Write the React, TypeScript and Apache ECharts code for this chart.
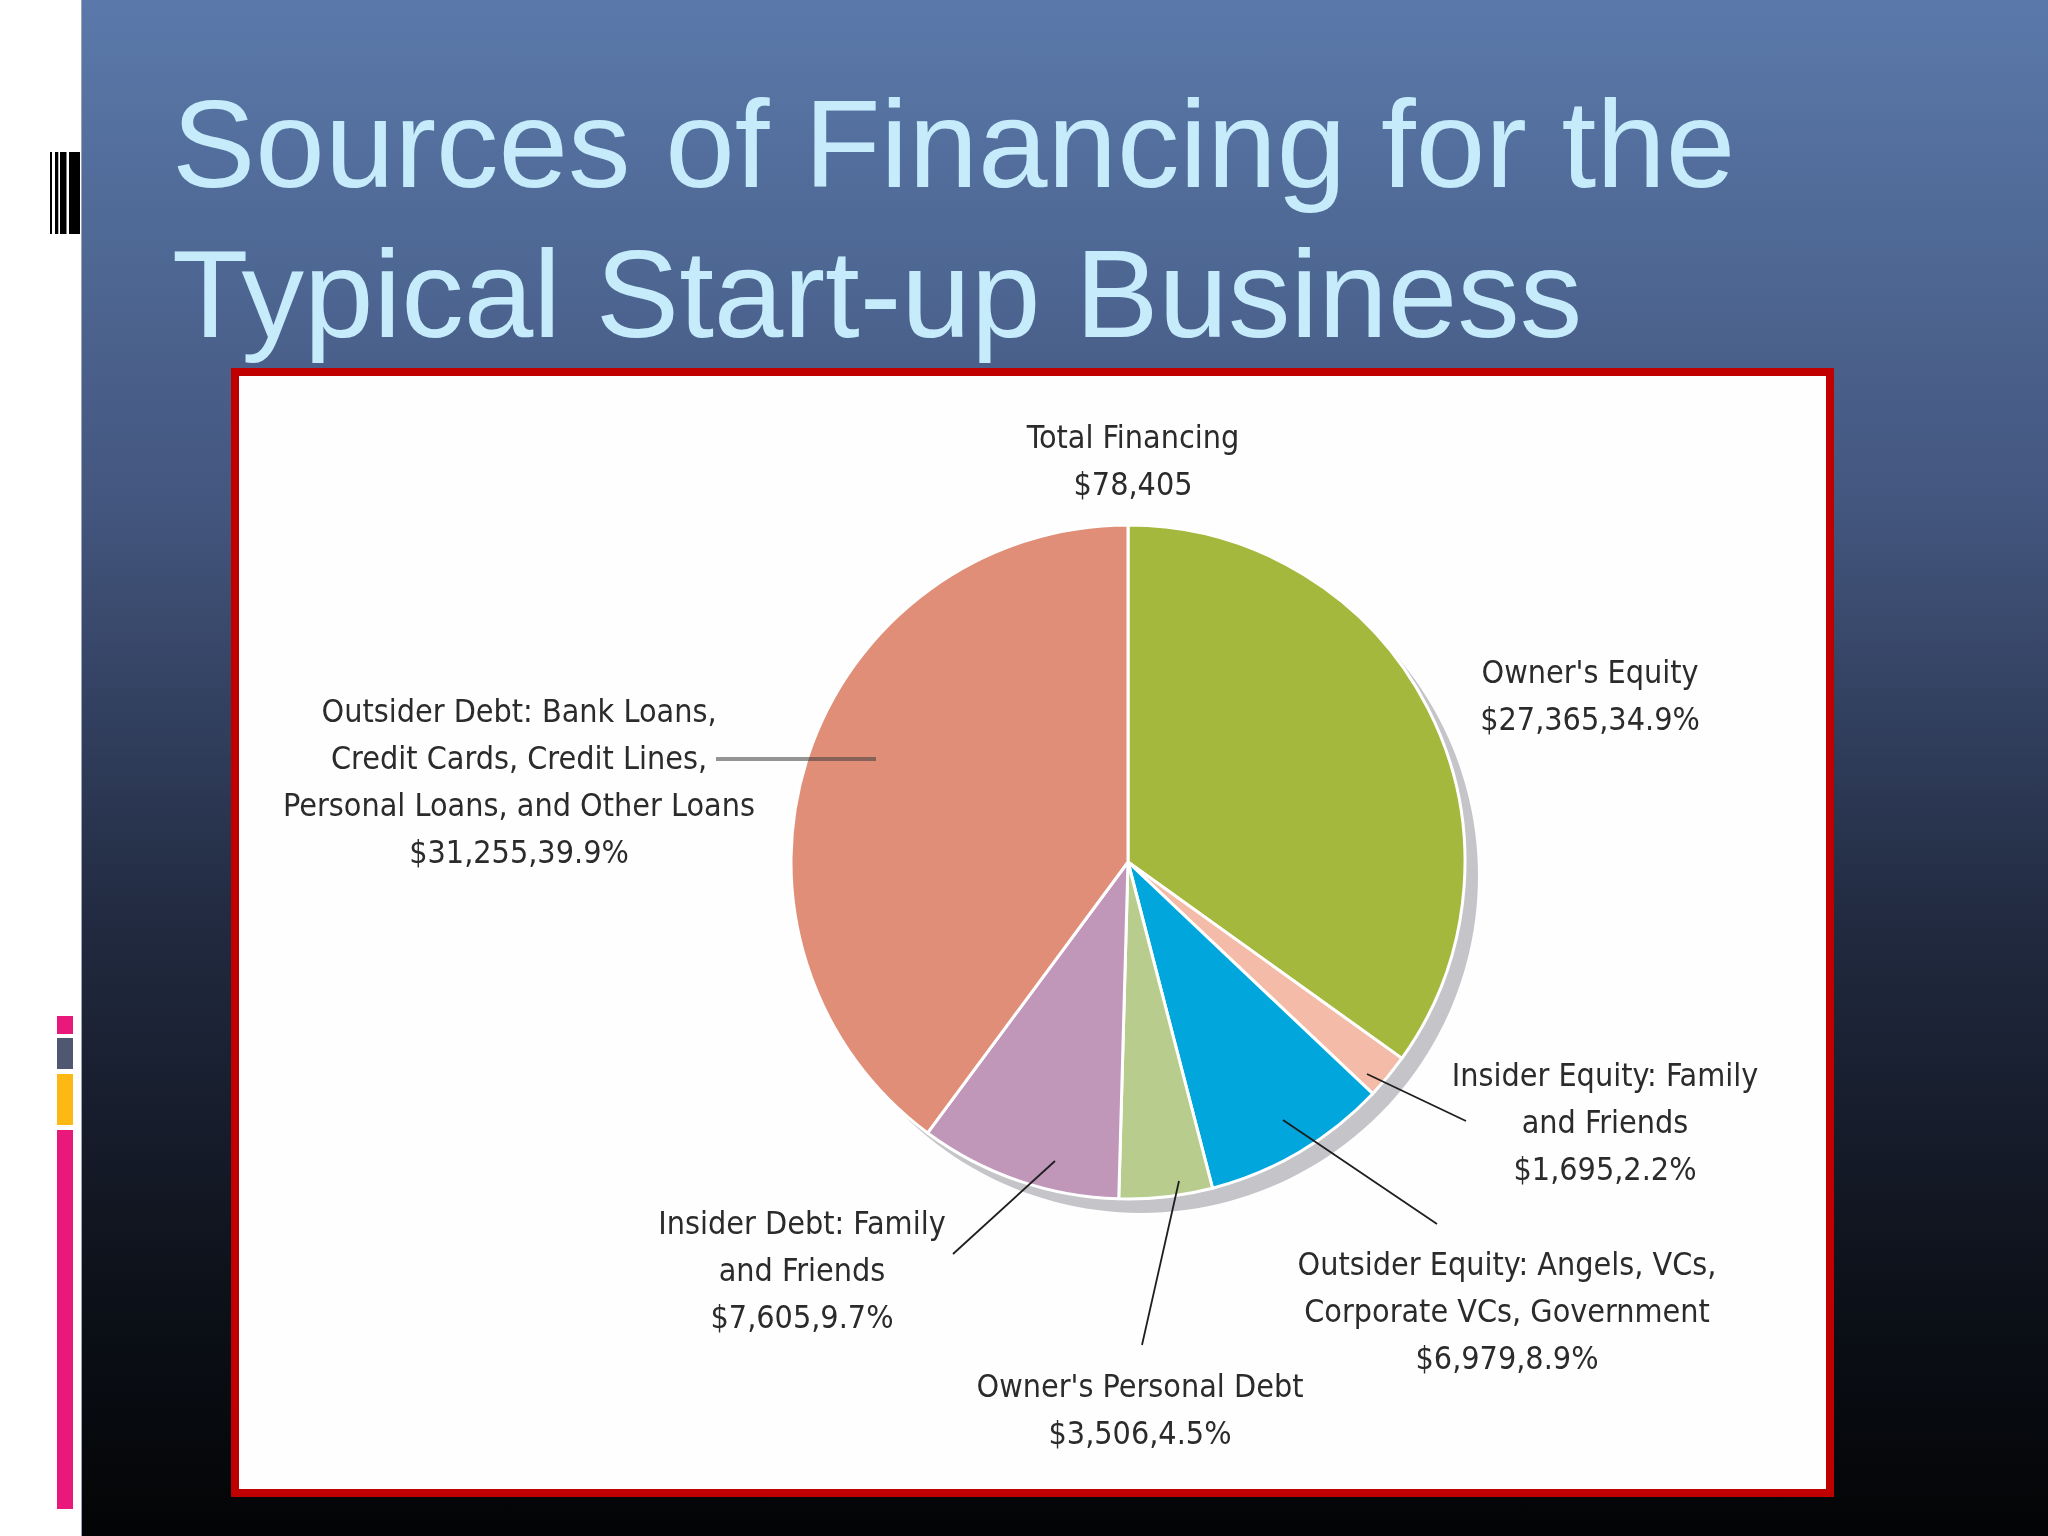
import React, { useEffect, useRef } from 'react';
import * as echarts from 'echarts';

// ---------- data ----------
const categories = [
  "Owner's Equity",
  'Insider Equity: Family\nand Friends',
  'Outsider Equity: Angels, VCs,\nCorporate VCs, Government',
  "Owner's Personal Debt",
  'Insider Debt: Family\nand Friends',
  'Outsider Debt: Bank Loans,\nCredit Cards, Credit Lines,\nPersonal Loans, and Other Loans',
];
const amounts = [27365, 1695, 6979, 3506, 7605, 31255];
const sliceColors = ['#a3b83c', '#f4bba8', '#00a6dc', '#b8cc8e', '#c097b8', '#e08e78'];
const titleLines = ['Sources of Financing for the', 'Typical Start-up Business'];
const totalCaption = 'Total Financing';

// ---------- layout (positions of the callouts, in page pixels) ----------
const LABEL_LAYOUT: { x: number; y: number; line: number[][] | null }[] = [
  { x: 1590, y: 695, line: null },
  { x: 1605, y: 1122, line: [[1367, 1074], [1466, 1121]] },
  { x: 1507, y: 1311, line: [[1283, 1120], [1437, 1224]] },
  { x: 1140, y: 1409, line: [[1179, 1181], [1142, 1345]] },
  { x: 802, y: 1270, line: [[1055, 1161], [953, 1254]] },
  { x: 519, y: 781, line: [[716, 759], [876, 759]] },
];

const LABEL_FONT = "'Liberation Sans Narrow', 'DejaVu Sans Condensed', 'Noto Sans', sans-serif";
const LABEL_SIZE = 32;
const LABEL_LH = 47;
const PIE_CENTER = [1128, 862];
const PIE_R = 337;

const money = (v: number) => '$' + v.toLocaleString('en-US');

export default function App() {
  const ref = useRef<HTMLDivElement>(null);

  useEffect(() => {
    if (!ref.current) return;
    const chart = echarts.init(ref.current, undefined, { renderer: 'svg' });
    const total = amounts.reduce((a, b) => a + b, 0);

    const pieData = categories.map((name, i) => ({
      name,
      value: amounts[i],
      itemStyle: { color: sliceColors[i] },
    }));

    const barcode = [
      [50, 2],
      [55, 3.3],
      [60, 6.5],
      [69, 11],
    ];
    const sideBars = [
      [1016, 18, '#e8197a'],
      [1038, 31, '#4f5870'],
      [1074, 51, '#fdb813'],
      [1130, 379, '#e8197a'],
    ];

    const leaders = LABEL_LAYOUT.map((l, i) => {
      if (!l.line) return null;
      const outsiderDebt = i === 5;
      return {
        type: 'polyline',
        shape: { points: l.line },
        style: {
          stroke: outsiderDebt ? 'rgba(60,60,60,0.55)' : '#1e1e1e',
          lineWidth: outsiderDebt ? 4 : 1.8,
          fill: 'none',
        },
        z: 20,
        silent: true,
      };
    }).filter(Boolean);

    const graphics: any[] = [
      { type: 'rect', shape: { x: 0, y: 0, width: 2048, height: 1536 }, style: { fill: '#ffffff' }, z: -10 },
      {
        type: 'rect',
        shape: { x: 82, y: 0, width: 1966, height: 1536 },
        style: {
          fill: {
            type: 'linear', x: 0, y: 0, x2: 0, y2: 1,
            colorStops: [
              { offset: 0, color: '#5a79aa' },
              { offset: 0.33, color: '#43567e' },
              { offset: 0.6, color: '#212a40' },
              { offset: 0.85, color: '#0c1018' },
              { offset: 1, color: '#030405' },
            ],
          },
        },
        z: -9,
      },
      { type: 'line', shape: { x1: 81.5, y1: 0, x2: 81.5, y2: 1536 }, style: { stroke: '#9aa3b5', lineWidth: 1 }, z: -8 },
      ...barcode.map(([x, w]) => ({
        type: 'rect', shape: { x, y: 152, width: w, height: 82 }, style: { fill: '#000000' }, z: -8,
      })),
      ...sideBars.map(([y, h, c]) => ({
        type: 'rect', shape: { x: 57, y, width: 16, height: h }, style: { fill: c }, z: -8,
      })),
      ...titleLines.map((t, i) => ({
        type: 'text',
        x: 172,
        y: 143 + i * 150,
        style: {
          text: t,
          fill: '#c6ecfb',
          font: "125px 'Liberation Sans', Arial, sans-serif",
          align: 'left',
          verticalAlign: 'middle',
        },
        z: -7,
      })),
      {
        type: 'rect',
        shape: { x: 235, y: 372, width: 1595, height: 1121 },
        style: { fill: '#fefefe', stroke: '#c00000', lineWidth: 8 },
        z: -6,
      },
      ...leaders,
    ];

    chart.setOption({
      animation: false,
      title: {
        text: `${totalCaption}\n${money(total)}`,
        left: PIE_CENTER[0],
        top: 408,
        textAlign: 'center',
        textStyle: {
          fontFamily: LABEL_FONT,
          fontSize: LABEL_SIZE,
          fontWeight: 'normal',
          color: '#2b2b2b',
          lineHeight: LABEL_LH,
        },
      },
      graphic: { elements: graphics },
      series: [
        {
          type: 'pie',
          silent: true,
          z: 1,
          center: [PIE_CENTER[0] + 13, PIE_CENTER[1] + 14],
          radius: PIE_R,
          data: [{ value: total, name: 'shadow', itemStyle: { color: '#c5c5c9' } }],
          label: { show: false },
          labelLine: { show: false },
        },
        {
          type: 'pie',
          z: 2,
          center: PIE_CENTER,
          radius: PIE_R,
          startAngle: 90,
          clockwise: true,
          avoidLabelOverlap: false,
          itemStyle: { borderColor: '#ffffff', borderWidth: 3 },
          data: pieData,
          label: {
            show: true,
            position: 'outside',
            formatter: (p: any) =>
              `${p.name}\n${money(p.value)},${((p.value / total) * 100).toFixed(1)}%`,
            fontFamily: LABEL_FONT,
            fontSize: LABEL_SIZE,
            lineHeight: LABEL_LH,
            color: '#2b2b2b',
            align: 'center',
          },
          labelLine: { show: false },
          labelLayout: (params: any) => {
            const l = LABEL_LAYOUT[params.dataIndex];
            return { x: l.x, y: l.y, align: 'center', verticalAlign: 'middle' };
          },
          emphasis: { disabled: true },
        },
      ],
    });

    return () => chart.dispose();
  }, []);

  return (
    <div
      ref={ref}
      style={{ position: 'fixed', left: 0, top: 0, width: 2048, height: 1536 }}
    />
  );
}
